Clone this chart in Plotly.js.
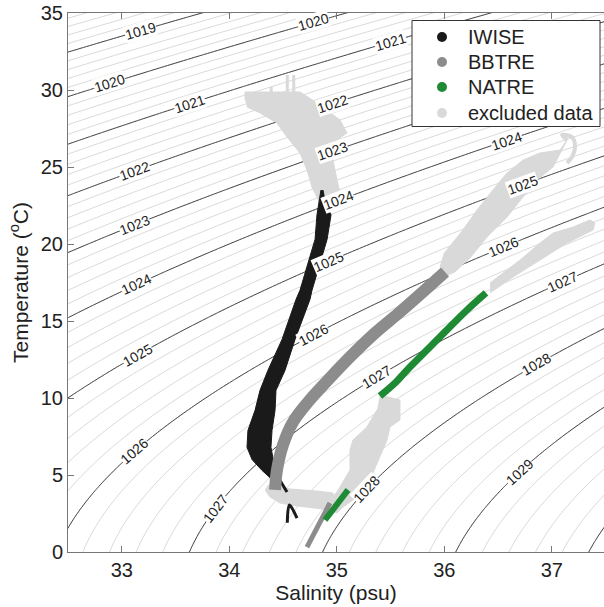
<!DOCTYPE html>
<html><head><meta charset="utf-8">
<script src="https://cdn.plot.ly/plotly-3.0.1.min.js"></script>
<style>html,body{margin:0;padding:0;background:#fff}#chart{width:604px;height:607px}</style>
</head><body><div id="chart"></div>
<script>
// ---- data (salinity psu, temperature degC) ----
// IWISE cloud outline
const iwiseS = [34.853,34.826,34.816,34.798,34.658,34.621,34.491,34.360,34.286,34.240,34.174,34.165,34.212,34.305,34.398,
                34.444,34.426,34.407,34.388,34.398,34.426,34.435,34.519,34.612,34.751,34.770,34.910,34.947,34.900,34.872];
const iwiseT = [23.5,22.5,21.9,20.3,17.0,16.4,13.8,11.8,10.5,9.2,7.9,6.8,6.0,5.3,4.7,
                4.7,5.3,6.0,6.8,7.9,9.2,10.5,11.8,13.8,16.4,17.0,20.3,21.9,22.5,23.5];
// IWISE thin deep pieces
const iwiseTailS = [34.453,34.537,null,34.54,34.56,34.63];
const iwiseTailT = [4.87,3.90,null,1.90,3.05,2.20];

// BBTRE centre line
const bbtreS = [34.426,34.444,34.500,34.593,34.733,34.919,35.123,35.356,35.588,35.821,36.007];
const bbtreT = [4.03,5.32,6.95,8.44,9.74,11.17,12.66,14.22,15.58,17.01,18.18];
const bbtreDeepS = [34.723,34.937];
const bbtreDeepT = [0.32,3.18];

// NATRE
const natreS = [35.402,35.542,35.681,35.960,36.212,36.388];
const natreT = [10.13,10.97,12.01,13.96,15.71,16.82];
const natreDeepS = [34.891,35.105];
const natreDeepT = [2.08,4.03];

// excluded data outlines
const exclUpperS = [34.147,34.147,34.658,34.816,35.030,35.095,35.002,34.965,35.002,35.030,34.984,34.891,34.816,34.770,34.723,34.658,34.537,34.444,34.286,34.165];
const exclUpperT = [29.35,29.87,29.87,29.16,28.05,27.21,26.75,25.45,24.16,23.31,22.53,21.88,23.05,23.70,24.81,25.91,26.95,27.86,28.51,28.90];
const exclSpikeS = [34.39,34.39,null,34.54,34.54,null,34.60,34.60];
const exclSpikeT = [29.2,30.2,null,29.2,30.97,null,29.2,30.97];
const exclMidS = [35.960,36.000,36.174,36.305,36.453,36.584,36.733,36.891,37.077,37.142,37.012,36.863,36.733,36.584,36.398,36.240,36.100,36.010];
const exclMidT = [18.50,19.40,20.91,22.21,23.51,24.61,25.45,25.91,26.10,26.75,25.00,24.16,23.05,21.75,20.45,19.10,18.20,17.90];
const exclHookS = [37.142,37.095,37.188,37.216,37.188,37.142];
const exclHookT = [26.75,27.08,26.95,26.30,25.65,25.26];
const exclRightS = [36.426,36.705,36.891,37.012,37.198,37.356,37.402,37.384,37.142,36.891,36.640,36.426];
const exclRightT = [17.47,18.96,20.06,20.71,21.10,21.56,21.36,20.91,20.06,18.96,17.86,16.82];
const exclLowS = [35.402,35.588,35.588,35.495,35.467,35.402,35.337,35.281,35.188,35.058,35.002,34.937,35.030,35.123,35.123,35.151,35.281,35.374];
const exclLowT = [10.19,9.87,8.57,8.12,7.27,6.17,5.13,4.22,3.57,2.92,2.53,3.18,4.22,5.32,6.62,7.27,8.12,9.22];
const exclBowlS = [34.360,34.565,34.816,34.965,35.002,34.937,34.630,34.472,34.379,34.333];
const exclBowlT = [4.35,4.09,3.96,3.83,2.53,2.73,2.99,3.18,3.57,4.03];

const legendNames = ['IWISE','BBTRE','NATRE','excluded data'];
const legendColors = ['#1a1a1a','#8c8c8c','#1e8a34','#d9d9d9'];

// isopycnal label levels and the salinity where each label sits
const labelLevels = [1019,1020,1020,1021,1021,1022,1022,1023,1023,1024,1024,1024,1025,1025,1025,1026,1026,1026,1027,1027,1027,1028,1028,1029];
const labelSal    = [33.17,32.89,34.78,33.63,35.50,33.12,34.96,33.12,34.96,33.14,35.02,36.58,33.15,34.92,36.73,33.12,34.78,36.55,33.87,35.37,37.10,35.28,36.86,36.70];

// ---- density background (UNESCO 1981 equation of state, surface pressure) ----
function seawaterDensity(S, T){
  const T2=T*T, T3=T2*T, T4=T3*T, T5=T4*T;
  const rw = 999.842594 + 6.793952e-2*T - 9.095290e-3*T2 + 1.001685e-4*T3 - 1.120083e-6*T4 + 6.536332e-9*T5;
  const A = 8.24493e-1 - 4.0899e-3*T + 7.6438e-5*T2 - 8.2467e-7*T3 + 5.3875e-9*T4;
  const B = -5.72466e-3 + 1.0227e-4*T - 1.6546e-6*T2;
  const C = 4.8314e-4;
  return rw + A*S + B*Math.pow(S,1.5) + C*S*S;
}
const gridS = [], gridT = [];
for (let i=0;i<=110;i++) gridS.push(32.25 + i*0.05);
for (let j=0;j<=146;j++) gridT.push(-0.75 + j*0.25);
const gridRho = gridT.map(t => gridS.map(s => seawaterDensity(s,t)));

const FONT = 'Liberation Sans, Arial, sans-serif';
const XR = [32.5,37.486], YR = [0,35];
const W = 604, H = 607, M = {l:68,r:0,t:13,b:55};
const PW = W-M.l-M.r, PH = H-M.t-M.b;
const pxS = PW/(XR[1]-XR[0]);
const pxT = PH/(YR[1]-YR[0]);

function tempOnIsopycnal(level, S){
  let lo=-2, hi=40;
  for (let k=0;k<60;k++){ const mid=(lo+hi)/2; if (seawaterDensity(S,mid)>level) lo=mid; else hi=mid; }
  return (lo+hi)/2;
}
const annotations = labelLevels.map((lev,i)=>{
  const s = labelSal[i], t = tempOnIsopycnal(lev, s);
  const t2 = tempOnIsopycnal(lev, s+0.02);
  const ang = Math.atan2(-(t2-t)*pxT, 0.02*pxS)*180/Math.PI;
  return {x:s,y:t,xref:'x',yref:'y',text:String(lev),showarrow:false,textangle:ang,
    font:{family:FONT,size:14,color:'#222'},bgcolor:'#fff',borderpad:0};
});

// ---- legend box (drawn with paper-referenced shapes and texts) ----
const px2paperX = p => (p - M.l)/PW;
const px2paperY = p => (H - M.b - p)/PH;
const LEG = {left:412, right:600, top:20.5, bottom:126.5, markX:442, textX:466, rowY:[37,62,87,113], r:5};
const shapes = [{type:'rect',xref:'paper',yref:'paper',layer:'above',
  x0:px2paperX(LEG.left),x1:px2paperX(LEG.right),y0:px2paperY(LEG.bottom),y1:px2paperY(LEG.top),
  fillcolor:'#fff',line:{color:'#333',width:1}}];
legendNames.forEach((n,i)=>{
  const cy = LEG.rowY[i];
  shapes.push({type:'circle',xref:'paper',yref:'paper',layer:'above',
    x0:px2paperX(LEG.markX-LEG.r),x1:px2paperX(LEG.markX+LEG.r),
    y0:px2paperY(cy+LEG.r),y1:px2paperY(cy-LEG.r),
    fillcolor:legendColors[i],line:{color:legendColors[i],width:0}});
  annotations.push({xref:'paper',yref:'paper',x:px2paperX(LEG.textX),y:px2paperY(cy),
    xanchor:'left',yanchor:'middle',text:n,showarrow:false,
    font:{family:FONT,size:20,color:'#222'}});
});

const traces = [];
function poly(x,y,color){ traces.push({type:'scatter',mode:'lines',x:x,y:y,fill:'toself',fillcolor:color,line:{color:color,width:1},showlegend:false,hoverinfo:'skip'}); }
function band(x,y,color,w){ traces.push({type:'scatter',mode:'lines',x:x,y:y,line:{color:color,width:w,shape:'spline'},showlegend:false,hoverinfo:'skip'}); }

const cEx = legendColors[3];
poly(exclUpperS, exclUpperT, cEx);
band(exclSpikeS, exclSpikeT, cEx, 3);
poly(exclMidS, exclMidT, cEx);
band(exclHookS, exclHookT, cEx, 4);
poly(exclRightS, exclRightT, cEx);
poly(exclLowS, exclLowT, cEx);
poly(exclBowlS, exclBowlT, cEx);

poly(iwiseS, iwiseT, legendColors[0]);
band(iwiseTailS, iwiseTailT, legendColors[0], 3);
band(bbtreS, bbtreT, legendColors[1], 12);
band(bbtreDeepS, bbtreDeepT, legendColors[1], 5);
band(natreS, natreT, legendColors[2], 7);
band(natreDeepS, natreDeepT, legendColors[2], 6);

traces.push({type:'contour',x:gridS,y:gridT,z:gridRho,showscale:false,showlegend:false,hoverinfo:'skip',
  autocontour:false,contours:{start:1017.2,end:1031,size:0.2,coloring:'none',showlabels:false},
  line:{color:'rgba(165,165,165,0.42)',width:1,smoothing:1}});
traces.push({type:'contour',x:gridS,y:gridT,z:gridRho,showscale:false,showlegend:false,hoverinfo:'skip',
  autocontour:false,contours:{start:1017,end:1031,size:1,coloring:'none',showlabels:false},
  line:{color:'#484848',width:1,smoothing:1}});

const layout = {
  width:W, height:H,
  margin:M,
  paper_bgcolor:'#fff', plot_bgcolor:'#fff',
  font:{family:FONT,color:'#222'},
  showlegend:false,
  annotations:annotations,
  shapes:shapes,
  xaxis:{range:XR,tickvals:[33,34,35,36,37],ticks:'inside',ticklen:6,tickcolor:'#777',
    showline:true,linecolor:'#777',linewidth:1,mirror:'ticks',showgrid:false,zeroline:false,
    tickfont:{family:FONT,size:20,color:'#222'},
    title:{text:'Salinity (psu)',font:{family:FONT,size:21,color:'#222'},standoff:4}},
  yaxis:{range:YR,tickvals:[0,5,10,15,20,25,30,35],ticks:'inside',ticklen:6,tickcolor:'#777',
    showline:true,linecolor:'#777',linewidth:1,mirror:false,showgrid:false,zeroline:false,
    tickfont:{family:FONT,size:20,color:'#222'},
    title:{text:'Temperature (<sup>o</sup>C)',font:{family:FONT,size:21,color:'#222'},standoff:6}}
};
Plotly.newPlot('chart', traces, layout, {staticPlot:true});
</script>
</body></html>
